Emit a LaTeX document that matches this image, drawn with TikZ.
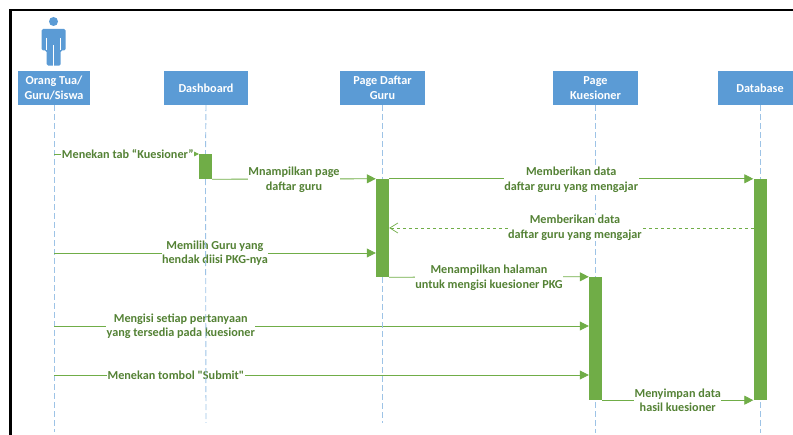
\documentclass[tikz,border=0pt]{standalone}
\usepackage{fontspec}
\setmainfont{Carlito}[Ligatures=TeXOff]
\usetikzlibrary{arrows.meta}
\definecolor{boxblue}{HTML}{5B9BD5}
\definecolor{lifeblue}{HTML}{9DC3E6}
\definecolor{bargreen}{HTML}{70AD47}
\definecolor{textgreen}{HTML}{548235}
\tikzset{
	lifebox/.style={fill=boxblue, draw=none, minimum height=34pt, inner sep=0pt, align=center, text=white, font=\fontsize{12.2}{14.5}\selectfont\bfseries},
	lifeline/.style={draw=lifeblue, line width=0.9pt, dash pattern=on 6pt off 3pt},
	actbar/.style={fill=bargreen, draw=none, minimum width=13pt, inner sep=0pt},
	msg/.style={draw=bargreen, line width=0.8pt, -{Triangle[length=9pt,width=9pt]}},
	msgback/.style={draw=bargreen, line width=0.7pt, dashed, -{Straight Barb[length=8pt,width=10pt]}},
	msgtext/.style={fill=white, inner sep=0.5pt, align=center, text=textgreen, font=\fontsize{12.2}{14.5}\selectfont\bfseries}
}
\begin{document}
\begin{tikzpicture}[x=1pt, y=-1pt]
	\useasboundingbox (0,0) rectangle (793,435);
	% frame
	\draw[black, line width=2.6pt] (10.5,435) -- (10.5,10) -- (793,10);
	% actor
	\fill[boxblue] (53.5,21.5) circle (4.5);
	\fill[boxblue, rounded corners=1.5pt] (41.7,50.5) -- (41.7,29) -- (65.7,29) -- (65.7,50.5) -- (60.7,50.5) -- (60.7,65.7) -- (46.7,65.7) -- (46.7,50.5) -- cycle;
	\draw[white, line width=0.6pt] (53.7,45.5) -- (53.7,65.7);
	\draw[white, line width=0.6pt] (46.7,38) -- (46.7,50.5) (60.7,38) -- (60.7,50.5);
	% lifeline heads
	\node[lifebox, minimum width=72pt] (boxOrtu) at (54,88) {Orang Tua/\\Guru/Siswa};
	\node[lifebox, minimum width=84pt] (boxDash) at (206,88) {Dashboard};
	\node[lifebox, minimum width=85pt] (boxDaftar) at (382.5,88) {Page Daftar\\Guru};
	\node[lifebox, minimum width=85pt] (boxKues) at (595.5,88) {Page\\Kuesioner};
	\node[lifebox, minimum width=84pt] (boxDb) at (760,88) {Database};
	% lifeline ends
	\coordinate (endOrtu) at (54,432);
	\coordinate (endDash) at (206,423);
	\coordinate (endDaftar) at (382.5,423);
	\coordinate (endKues) at (595.5,433);
	\coordinate (endDb) at (760,433);
	\draw[lifeline] (boxOrtu.south) -- (endOrtu);
	\draw[lifeline] (boxKues.south) -- (endKues);
	\draw[lifeline] (boxDb.south) -- (endDb);
	% activation bars
	\node[actbar, minimum height=25pt] (barDash) at (205.5,166.5) {};
	\node[actbar, minimum height=98pt] (barDaftar) at (382.5,228) {};
	\node[actbar, minimum height=123pt] (barKues) at (595.5,338.5) {};
	\node[actbar, minimum height=221pt] (barDb) at (760,289.5) {};
	% free ends of the messages
	\coordinate (ortuTab) at (54,154);
	\coordinate (dbBack) at (753.5,228);
	\coordinate (ortuPilih) at (54,253);
	\coordinate (ortuIsi) at (54,326);
	\coordinate (ortuKirim) at (54,375);
	% messages
	\draw[msg] (ortuTab) -- (ortuTab -| barDash.west) node[msgtext, pos=0.51] (txtTab) {Menekan tab “Kuesioner”};
	\draw[msg] (barDash.south east) -- (barDaftar.north west) node[msgtext, pos=0.5, yshift=-1pt] (txtPage) {Mnampilkan page\\daftar guru};
	\draw[msg] (barDaftar.north east) -- (barDb.north west) node[msgtext, pos=0.5, yshift=-1pt] (txtData) {Memberikan data\\daftar guru yang mengajar};
	\draw[msgback] (dbBack) -- (dbBack -| barDaftar.east) node[msgtext, pos=0.49] (txtBack) {Memberikan data\\daftar guru yang mengajar};
	\draw[msg] (ortuPilih) -- (ortuPilih -| barDaftar.west) node[msgtext, pos=0.5] (txtPilih) {Memilih Guru yang\\hendak diisi PKG-nya};
	\draw[msg] (barDaftar.south east) -- (barKues.north west) node[msgtext, pos=0.5, yshift=-1pt] (txtHal) {Menampilkan halaman\\untuk mengisi kuesioner PKG};
	\draw[msg] (ortuIsi) -- (ortuIsi -| barKues.west) node[msgtext, pos=0.237] (txtIsi) {Mengisi setiap pertanyaan\\yang tersedia pada kuesioner};
	\draw[msg] (ortuKirim) -- (ortuKirim -| barKues.west) node[msgtext, pos=0.228] (txtKirim) {Menekan tombol "Submit"};
	\draw[msg] (barKues.south east) -- (barDb.south west) node[msgtext, pos=0.5] (txtSimpan) {Menyimpan data\\hasil kuesioner};
	% these two run over the labels
	\draw[lifeline] (boxDash.south) -- (barDash.north);
	\draw[lifeline] (barDash.south) -- (endDash);
	\draw[lifeline] (boxDaftar.south) -- (barDaftar.north);
	\draw[lifeline] (barDaftar.south) -- (endDaftar);
\end{tikzpicture}
\end{document}
